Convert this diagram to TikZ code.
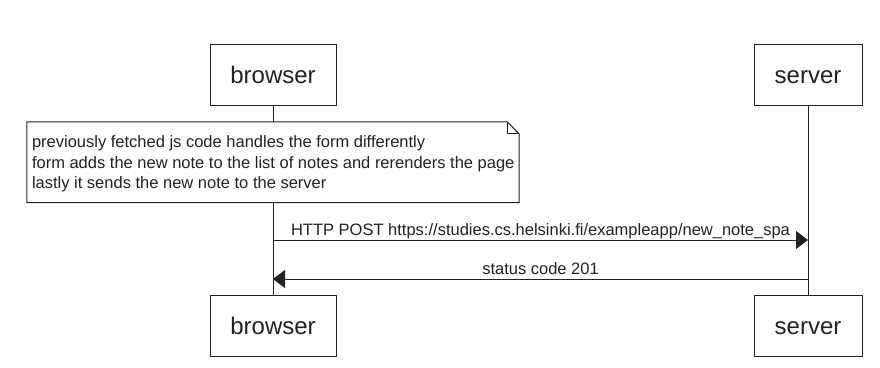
\documentclass[tikz,border=0pt]{standalone}
\usepackage{fontspec}
\setmainfont{Liberation Sans}
\usetikzlibrary{arrows.meta,calc}

\definecolor{ink}{HTML}{222222}

\tikzset{
  actor/.style={draw=ink, fill=white, line width=1pt, inner sep=0pt,
    minimum height=61pt, text=ink, text height=17.5pt, text depth=0pt,
    font=\fontsize{24}{28}\selectfont},
  lifeline/.style={draw=ink, line width=1pt},
  notetext/.style={inner sep=0pt, align=left, text=ink,
    font=\fontsize{16.5}{20.5}\selectfont},
  msg/.style={draw=ink, line width=1pt, -{Triangle[length=12pt,width=18pt]}},
  msglabel/.style={inner sep=0pt, anchor=base, text=ink,
    font=\fontsize{16.5}{19}\selectfont},
}

\begin{document}
\begin{tikzpicture}[x=1pt, y=-1pt]
  \useasboundingbox[fill=white] (0,0) rectangle (880,367);

  % participants, top and bottom
  \node[actor, minimum width=126pt] (b1) at (273,74.5) {browser};
  \node[actor, minimum width=108pt] (s1) at (808,74.5) {server};
  \node[actor, minimum width=126pt] (b2) at (273,325.5) {browser};
  \node[actor, minimum width=108pt] (s2) at (808,326) {server};

  % lifelines
  \draw[lifeline] (b1.south) -- (b2.north);
  \draw[lifeline] (s1.south) -- (s2.north);

  % note with folded corner
  \path (273,162.25) node[minimum width=492pt, minimum height=80.5pt, inner sep=0pt] (note) {};
  \filldraw[draw=ink, fill=white, line width=1pt]
    (note.north west) -- ([xshift=-12pt]note.north east)
    -- ([yshift=-12pt]note.north east) -- (note.south east)
    -- (note.south west) -- cycle;
  \draw[draw=ink, line width=1pt]
    ([xshift=-12pt]note.north east) -- ([xshift=-12pt,yshift=-12pt]note.north east)
    -- ([yshift=-12pt]note.north east);
  \node[notetext, anchor=north west] (notetxt) at ([xshift=5pt,yshift=-14pt]note.north west)
    {previously fetched js code handles the form differently\\
     form adds the new note to the list of notes and rerenders the page\\
     lastly it sends the new note to the server};

  % messages
  \draw[msg] (b1.south |- 0,240) coordinate (m1from) -- (s1.south |- 0,240) coordinate (m1to);
  \node[msglabel] (m1lbl) at ([yshift=5pt]$(m1from)!0.5!(m1to)$) {HTTP POST https://studies.cs.helsinki.fi/exampleapp/new\_note\_spa};
  \draw[msg] (s1.south |- 0,279) coordinate (m2from) -- (b1.south |- 0,279) coordinate (m2to);
  \node[msglabel] (m2lbl) at ([yshift=5pt]$(m2from)!0.5!(m2to)$) {status code 201};
\end{tikzpicture}
\end{document}
